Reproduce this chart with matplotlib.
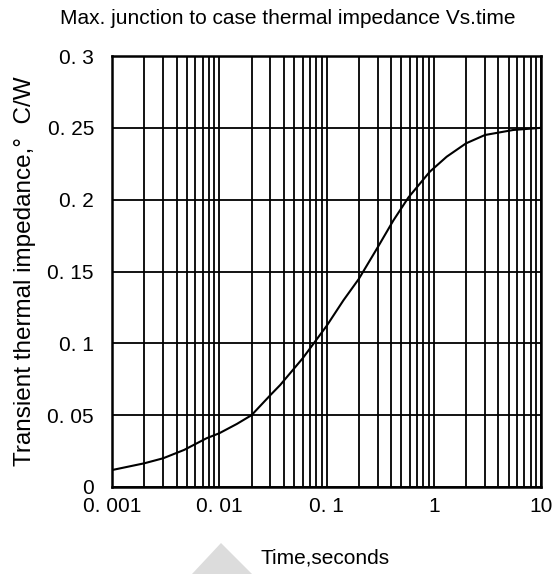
import matplotlib
matplotlib.use("Agg")
import matplotlib.pyplot as plt
from matplotlib import font_manager
from matplotlib.patches import Polygon
from matplotlib.ticker import FixedLocator, NullFormatter

# values
time_s = [0.001, 0.002, 0.003, 0.0047, 0.0076, 0.01, 0.0146, 0.02, 0.03, 0.037,
          0.06, 0.1, 0.144, 0.2, 0.3, 0.42, 0.58, 0.92, 1.32, 2.0, 3.0, 5.5, 10]
zth = [0.0118, 0.0165, 0.020, 0.0258, 0.0339, 0.0374, 0.0439, 0.050, 0.064, 0.071,
       0.0896, 0.112, 0.130, 0.1448, 0.1668, 0.1855, 0.2015, 0.2195, 0.2299, 0.2392,
       0.245, 0.2485, 0.250]

x_ticks = [0.001, 0.01, 0.1, 1, 10]
x_labels = ["0. 001", "0. 01", "0. 1", "1", "10"]
y_ticks = [0, 0.05, 0.1, 0.15, 0.2, 0.25, 0.3]
y_labels = ["0", "0. 05", "0. 1", "0. 15", "0. 2", "0. 25", "0. 3"]

names = {f.name for f in font_manager.fontManager.ttflist}
family = "Liberation Sans Narrow" if "Liberation Sans Narrow" in names else "Liberation Sans"
plt.rcParams["font.family"] = [family, "DejaVu Sans"]

W, H = 558, 574
fig = plt.figure(figsize=(W / 100, H / 100), dpi=100)
ax = fig.add_axes([112 / W, 1 - 487 / H, 429 / W, 431 / H])

ax.plot(time_s, zth, color="black", lw=1.5)
ax.set_xscale("log")
ax.set_xlim(0.001, 10)
ax.set_ylim(0, 0.3)

ax.xaxis.set_major_locator(FixedLocator(x_ticks))
ax.xaxis.set_minor_locator(FixedLocator([m * 10.0 ** e for e in range(-3, 1) for m in range(2, 10)]))
ax.xaxis.set_minor_formatter(NullFormatter())
ax.set_xticklabels(x_labels)
ax.set_yticks(y_ticks)
ax.set_yticklabels(y_labels)
ax.grid(True, which="both", axis="x", color="black", lw=1.3)
ax.grid(True, which="major", axis="y", color="black", lw=1.3)
ax.tick_params(axis="both", which="both", length=0, labelsize=15)
ax.tick_params(axis="x", pad=7)
ax.tick_params(axis="y", pad=13)
for s in ax.spines.values():
    s.set_linewidth(1.8)

fig.text(288 / W, 1 - 18 / H, "Max. junction to case thermal impedance Vs.time",
         ha="center", va="center", fontsize=15)
fig.text(325 / W, 1 - 558 / H, "Time,seconds", ha="center", va="center", fontsize=15)
fig.text(25 / W, 1 - 271 / H, "Transient thermal impedance,°  C/W",
         ha="center", va="center", rotation=90, fontsize=17.5)

# grey watermark triangle at the bottom
tri = Polygon([(192 / W, 0), (221 / W, 1 - 543 / H), (252 / W, 0)],
              closed=True, transform=fig.transFigure, facecolor="#dcdcdc",
              edgecolor="none", zorder=-1)
fig.patches.append(tri)

fig.savefig("out.png", dpi=100)
